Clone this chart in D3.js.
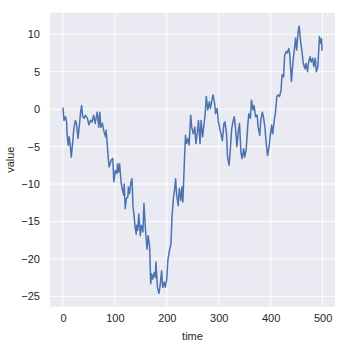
<!DOCTYPE html>
<html>
<head>
<meta charset="utf-8">
<script src="https://cdn.jsdelivr.net/npm/d3@7"></script>
<style>
  body { margin: 0; background: #fff; }
  text { font-family: "Liberation Sans", Arial, sans-serif; fill: #262626; }
</style>
</head>
<body>
<div id="chart"></div>
<script>
var svgWidth = 348;
var svgHeight = 348;

var margin = { top: 12.7, right: 13, bottom: 41.3, left: 50 };
var width = svgWidth - margin.left - margin.right;
var height = svgHeight - margin.top - margin.bottom;

// random walk (time, value)
var times = [0, 2, 5, 7, 8, 10, 12, 14, 16, 18, 21, 24, 26, 27, 29, 32, 34, 36, 38, 41, 43, 47, 50, 53,
  56, 59, 62, 66, 69, 71, 73, 76, 79, 82, 83, 85, 87, 89, 93, 96, 98, 101, 104, 105, 107, 109,
  112, 114, 117, 118, 120, 122, 125, 126, 128, 131, 133, 135, 137, 139, 141, 142, 144, 146,
  149, 151, 154, 156, 159, 162, 164, 167, 168, 169, 171, 173, 176, 178, 179, 182, 185, 187,
  190, 192, 195, 197, 200, 202, 205, 208, 210, 213, 215, 217, 219, 222, 224, 227, 229, 231,
  232, 234, 236, 238, 241, 243, 246, 248, 251, 254, 256, 259, 261, 264, 266, 269, 271, 274,
  276, 279, 282, 284, 287, 289, 292, 294, 297, 299, 302, 305, 307, 310, 312, 315, 317, 320,
  322, 325, 328, 330, 333, 335, 338, 340, 343, 345, 348, 350, 353, 356, 358, 361, 363, 366,
  368, 371, 374, 376, 379, 381, 384, 386, 389, 391, 394, 397, 399, 402, 404, 407, 409, 412,
  414, 417, 420, 422, 425, 427, 430, 432, 435, 437, 440, 443, 445, 448, 450, 453, 455, 458,
  460, 463, 466, 468, 471, 473, 476, 478, 481, 483, 486, 488, 491, 494, 496, 498, 499];
var values = [0.2, -1.5, -1.0, -1.7, -3.3, -4.8, -3.7, -4.8, -6.4, -5.0, -2.6, -1.5, -1.9, -2.6, -3.9, -1.9,
  -0.4, 0.5, -1.0, -1.2, -0.8, -1.2, -2.1, -1.5, -1.7, -0.8, -1.9, -0.4, -2.4, -0.4, -2.4, -1.9,
  -3.0, -3.7, -2.8, -4.4, -6.4, -7.7, -6.8, -6.6, -9.7, -8.2, -8.6, -7.3, -8.4, -7.3,
  -9.7, -10.6, -11.5, -10.0, -13.3, -12.0, -11.7, -10.4, -11.3, -9.7, -9.3, -13.1, -14.2,
  -15.8, -16.7, -15.5, -16.2, -14.0, -16.9, -15.5, -16.4, -12.6, -16.2, -18.7, -16.9, -18.4,
  -20.9, -23.3, -22.0, -22.7, -21.8, -22.5, -20.4, -23.8, -24.6, -23.6, -21.6, -23.8, -23.1,
  -23.8, -22.7, -20.2, -18.9, -18.0, -14.4, -11.7, -10.8, -9.3, -11.5, -12.9, -10.6, -12.2,
  -10.4, -12.4, -10.4, -6.8, -3.5, -4.6, -3.9, -4.8, -0.8, -2.4, -3.3, -2.4, -4.6, -3.0, -1.5,
  -4.6, -1.5, -3.7, -2.4, -0.6, 1.7, -0.1, 1.0, 0.1, 1.2, 1.9, 0.8, -0.6, 0.1, -1.5, -2.6,
  -3.5, -4.2, -1.9, -1.7, -3.3, -6.4, -7.5, -5.7, -2.6, -1.5, -1.0, -3.0, -5.0, -2.8, -1.9,
  -5.9, -6.6, -5.3, -6.4, -5.3, -2.1, -0.6, -1.2, 1.2, -0.1, 0.5, -1.0, -0.8, -2.4, -3.5,
  -1.5, -0.4, -1.0, -2.4, -4.2, -6.2, -5.0, -3.7, -2.1, -3.3, -1.5, -0.6, 1.7, 1.9, 1.7, 2.5,
  4.6, 4.3, 7.2, 7.7, 7.5, 8.1, 7.2, 3.7, 6.3, 7.5, 9.5, 7.9, 10.4, 11.1, 8.8, 7.9, 6.1, 5.4,
  6.1, 5.0, 6.3, 7.0, 6.3, 6.8, 5.7, 6.8, 5.0, 5.7, 9.7, 8.8, 9.4, 7.8];

var xTicks = [0, 100, 200, 300, 400, 500];
var yTicks = [-25, -20, -15, -10, -5, 0, 5, 10];

var data = times.map(function(t, i) { return { time: t, value: values[i] }; });

var svg = d3.select("#chart")
  .append("svg")
  .attr("width", svgWidth)
  .attr("height", svgHeight);

var chartGroup = svg.append("g")
  .attr("transform", `translate(${margin.left}, ${margin.top})`);

// matplotlib style 5% padding
var xMin = d3.min(times), xMax = 499;
var xPad = (xMax - xMin) * 0.05;
var yMin = d3.min(values), yMax = d3.max(values);
var yPad = (yMax - yMin) * 0.05;

var xScale = d3.scaleLinear()
  .domain([xMin - xPad, xMax + xPad])
  .range([0, width]);

var yScale = d3.scaleLinear()
  .domain([yMin - yPad, yMax + yPad])
  .range([height, 0]);

chartGroup.append("rect")
  .attr("width", width)
  .attr("height", height)
  .attr("fill", "#EAEAF2");

// grid
chartGroup.selectAll(".xgrid")
  .data(xTicks)
  .enter()
  .append("line")
  .attr("x1", d => xScale(d))
  .attr("x2", d => xScale(d))
  .attr("y1", 0)
  .attr("y2", height)
  .attr("stroke", "#fff")
  .attr("stroke-width", 1);

chartGroup.selectAll(".ygrid")
  .data(yTicks)
  .enter()
  .append("line")
  .attr("y1", d => yScale(d))
  .attr("y2", d => yScale(d))
  .attr("x1", 0)
  .attr("x2", width)
  .attr("stroke", "#fff")
  .attr("stroke-width", 1);

// axes, no tick marks or domain line
var bottomAxis = d3.axisBottom(xScale).tickValues(xTicks).tickSize(0).tickPadding(8);
var leftAxis = d3.axisLeft(yScale).tickValues(yTicks).tickSize(0).tickPadding(10);

var xAxis = chartGroup.append("g")
  .attr("transform", `translate(0, ${height})`)
  .call(bottomAxis);
var yAxis = chartGroup.append("g")
  .call(leftAxis);

[xAxis, yAxis].forEach(function(ax) {
  ax.select(".domain").remove();
  ax.selectAll("text")
    .attr("fill", "#262626")
    .style("font-size", "11px")
    .style("font-family", "'Liberation Sans', Arial, sans-serif");
});

var line = d3.line()
  .x(d => xScale(d.time))
  .y(d => yScale(d.value));

chartGroup.append("path")
  .datum(data)
  .attr("fill", "none")
  .attr("stroke", "#4C72B0")
  .attr("stroke-width", 1.5)
  .attr("stroke-linejoin", "round")
  .attr("d", line);

// axis labels
chartGroup.append("text")
  .attr("x", width / 2)
  .attr("y", height + 33)
  .attr("text-anchor", "middle")
  .style("font-size", "11px")
  .text("time");

chartGroup.append("text")
  .attr("transform", "rotate(-90)")
  .attr("x", 0 - height / 2)
  .attr("y", 0 - margin.left + 14)
  .attr("text-anchor", "middle")
  .style("font-size", "11px")
  .text("value");
</script>
</body>
</html>
